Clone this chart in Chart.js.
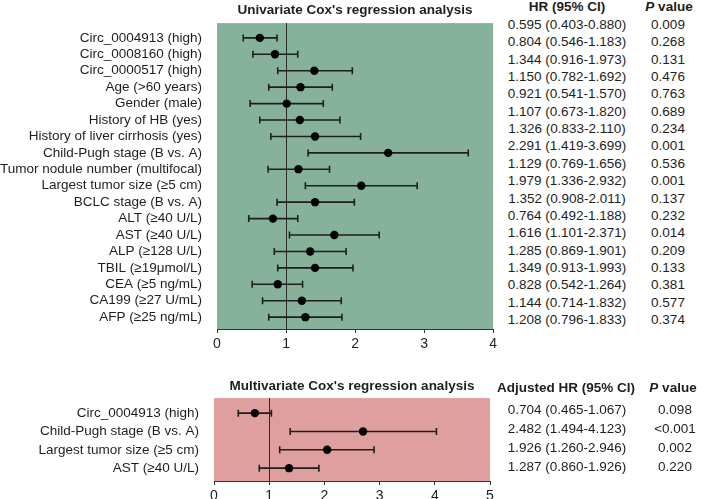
<!DOCTYPE html>
<html>
<head>
<meta charset="utf-8">
<script src="https://cdn.jsdelivr.net/npm/chart.js@4.4.1/dist/chart.umd.min.js"></script>
<style>
  html, body { margin: 0; background: #fff; width: 709px; height: 499px; overflow: hidden; }
  body { position: relative; font-family: "Liberation Sans", Arial, sans-serif; color: #1e1e1e; }
  canvas { position: absolute; left: 0; }
  .t { position: absolute; white-space: nowrap; transform: translate(-50%, -50%); font-size: 13.5px; }
  .b { font-weight: bold; }
</style>
</head>
<body>
<canvas id="uni" width="500" height="360" style="top:0"></canvas>
<canvas id="multi" width="500" height="130" style="top:375px"></canvas>
<div id="tables"></div>
<script>
// ── Data ─────────────────────────────────────
const uniLabels = ['Circ_0004913 (high)', 'Circ_0008160 (high)', 'Circ_0000517 (high)', 'Age (>60 years)',
    'Gender (male)', 'History of HB (yes)', 'History of liver cirrhosis (yes)', 'Child-Pugh stage (B vs. A)',
    'Tumor nodule number (multifocal)', 'Largest tumor size (≥5 cm)', 'BCLC stage (B vs. A)', 'ALT (≥40 U/L)',
    'AST (≥40 U/L)', 'ALP (≥128 U/L)', 'TBIL (≥19μmol/L)', 'CEA (≥5 ng/mL)', 'CA199 (≥27 U/mL)', 'AFP (≥25 ng/mL)'];
// plotted positions
const uniHR = [0.62, 0.84, 1.41, 1.21, 1.01, 1.20, 1.42, 2.48, 1.18, 2.09, 1.42, 0.81, 1.70, 1.35, 1.42, 0.88, 1.23, 1.28];
const uniLo = [0.38, 0.52, 0.88, 0.75, 0.48, 0.62, 0.78, 1.32, 0.74, 1.28, 0.87, 0.46, 1.05, 0.83, 0.88, 0.51, 0.66, 0.75];
const uniHi = [0.87, 1.17, 1.96, 1.67, 1.54, 1.78, 2.08, 3.64, 1.63, 2.90, 1.99, 1.17, 2.35, 1.87, 1.97, 1.24, 1.80, 1.81];
const uniHRText = ['0.595 (0.403-0.880)', '0.804 (0.546-1.183)', '1.344 (0.916-1.973)', '1.150 (0.782-1.692)',
    '0.921 (0.541-1.570)', '1.107 (0.673-1.820)', '1.326 (0.833-2.110)', '2.291 (1.419-3.699)',
    '1.129 (0.769-1.656)', '1.979 (1.336-2.932)', '1.352 (0.908-2.011)', '0.764 (0.492-1.188)',
    '1.616 (1.101-2.371)', '1.285 (0.869-1.901)', '1.349 (0.913-1.993)', '0.828 (0.542-1.264)',
    '1.144 (0.714-1.832)', '1.208 (0.796-1.833)'];
const uniP = ['0.009', '0.268', '0.131', '0.476', '0.763', '0.689', '0.234', '0.001', '0.536',
    '0.001', '0.137', '0.232', '0.014', '0.209', '0.133', '0.381', '0.577', '0.374'];
const uniTicks = [0, 1, 2, 3, 4];

const multiLabels = ['Circ_0004913 (high)', 'Child-Pugh stage (B vs. A)', 'Largest tumor size (≥5 cm)', 'AST (≥40 U/L)'];
const multiHR = [0.74, 2.70, 2.05, 1.36];
const multiLo = [0.44, 1.38, 1.19, 0.82];
const multiHi = [1.04, 4.03, 2.90, 1.90];
const multiHRText = ['0.704 (0.465-1.067)', '2.482 (1.494-4.123)', '1.926 (1.260-2.946)', '1.287 (0.860-1.926)'];
const multiP = ['0.098', '<0.001', '0.002', '0.220'];
const multiTicks = [0, 1, 2, 3, 4, 5];

const FONT = '"Liberation Sans", Arial, sans-serif';
const INK = '#1e1e1e';

// ── Forest plot plugin: panel, ref line, whiskers, title ──
const forest = {
    id: 'forest',
    beforeDraw(chart, args, o) {
        const { ctx, chartArea: a } = chart;
        ctx.save();
        ctx.fillStyle = o.bg;
        ctx.fillRect(a.left, a.top, a.right - a.left, a.bottom - a.top);
        ctx.restore();
    },
    beforeDatasetsDraw(chart, args, o) {
        const { ctx, chartArea: a, scales: { x, y } } = chart;
        ctx.save();
        const x1 = Math.round(x.getPixelForValue(1)) + 0.5;
        ctx.strokeStyle = '#2a2a2a';
        ctx.lineWidth = 1;
        ctx.beginPath(); ctx.moveTo(x1, a.top); ctx.lineTo(x1, a.bottom); ctx.stroke();
        ctx.lineWidth = 1.6;
        ctx.strokeStyle = INK;
        o.lo.forEach((lo, i) => {
            const yy = y.getPixelForValue(i);
            const xl = x.getPixelForValue(lo), xr = x.getPixelForValue(o.hi[i]);
            ctx.beginPath();
            ctx.moveTo(xl, yy); ctx.lineTo(xr, yy);
            ctx.moveTo(xl, yy - 3.5); ctx.lineTo(xl, yy + 3.5);
            ctx.moveTo(xr, yy - 3.5); ctx.lineTo(xr, yy + 3.5);
            ctx.stroke();
        });
        ctx.restore();
    },
    afterDraw(chart, args, o) {
        const { ctx, chartArea: a } = chart;
        ctx.save();
        ctx.font = 'bold 13.5px ' + FONT;
        ctx.fillStyle = INK;
        ctx.textAlign = 'center';
        ctx.textBaseline = 'middle';
        ctx.fillText(o.title, (a.left + a.right) / 2, a.top - o.titleGap);
        ctx.restore();
    }
};

function makeForest(id, cfg) {
    return new Chart(document.getElementById(id), {
        type: 'scatter',
        data: {
            datasets: [{
                data: cfg.hr.map((v, i) => ({ x: v, y: i })),
                pointRadius: 4.2,
                pointBackgroundColor: '#000',
                pointBorderWidth: 0,
            }],
        },
        plugins: [forest],
        options: {
            responsive: false,
            animation: false,
            layout: { padding: cfg.padding },
            plugins: {
                legend: { display: false },
                tooltip: { enabled: false },
                forest: { bg: cfg.bg, lo: cfg.lo, hi: cfg.hi, title: cfg.title, titleGap: cfg.titleGap },
            },
            scales: {
                x: {
                    type: 'linear',
                    min: cfg.ticks[0],
                    max: cfg.ticks[cfg.ticks.length - 1],
                    afterBuildTicks: s => { s.ticks = cfg.ticks.map(v => ({ value: v })); },
                    afterFit: s => { s.height = cfg.xHeight; },
                    ticks: { color: INK, font: { family: FONT, size: 14 }, padding: 3, maxRotation: 0 },
                    grid: { drawOnChartArea: false, drawTicks: true, tickLength: 4, color: '#333' },
                    border: { color: '#333', width: 1 },
                },
                y: {
                    type: 'linear',
                    reverse: true,
                    min: cfg.yMin,
                    max: cfg.yMax,
                    afterBuildTicks: s => { s.ticks = cfg.labels.map((_, i) => ({ value: i })); },
                    afterFit: s => { s.width = cfg.yWidth; },
                    ticks: {
                        color: INK, font: { family: FONT, size: 13.5 }, padding: 15, autoSkip: false,
                        callback: v => cfg.labels[v],
                    },
                    grid: { display: false, drawTicks: false },
                    border: { display: false },
                },
            },
        },
    });
}

makeForest('uni', {
    labels: uniLabels, hr: uniHR, lo: uniLo, hi: uniHi, ticks: uniTicks,
    bg: '#86b29c', title: "Univariate Cox's regression analysis", titleGap: 12.5,
    padding: { top: 18, right: 6, bottom: 11, left: 0 },
    xHeight: 20, yWidth: 217, yMin: -0.9, yMax: 17.72,
});

makeForest('multi', {
    labels: multiLabels, hr: multiHR, lo: multiLo, hi: multiHi, ticks: multiTicks,
    bg: '#e09f9f', title: "Multivariate Cox's regression analysis", titleGap: 12,
    padding: { top: 23, right: 10, bottom: 4, left: 0 },
    xHeight: 20, yWidth: 214, yMin: -0.82, yMax: 3.7,
});

// ── Side tables ──────────────────────────────
function addText(html, x, y, cls) {
    const d = document.createElement('div');
    d.className = 't' + (cls ? ' ' + cls : '');
    d.style.left = x + 'px';
    d.style.top = y + 'px';
    d.innerHTML = html;
    document.getElementById('tables').appendChild(d);
}

addText('HR (95% CI)', 567, 6, 'b');
addText('<i>P</i> value', 669, 6, 'b');
uniHRText.forEach((t, i) => {
    addText(t, 567, 24 + i * 17.35);
    addText(uniP[i], 668, 24 + i * 17.35);
});

addText('Adjusted HR (95% CI)', 566, 387, 'b');
addText('<i>P</i> value', 673, 387, 'b');
multiHRText.forEach((t, i) => {
    addText(t, 567, 409 + i * 19);
    addText(multiP[i].replace('<', '&lt;'), 675, 409 + i * 19);
});
</script>
</body>
</html>
